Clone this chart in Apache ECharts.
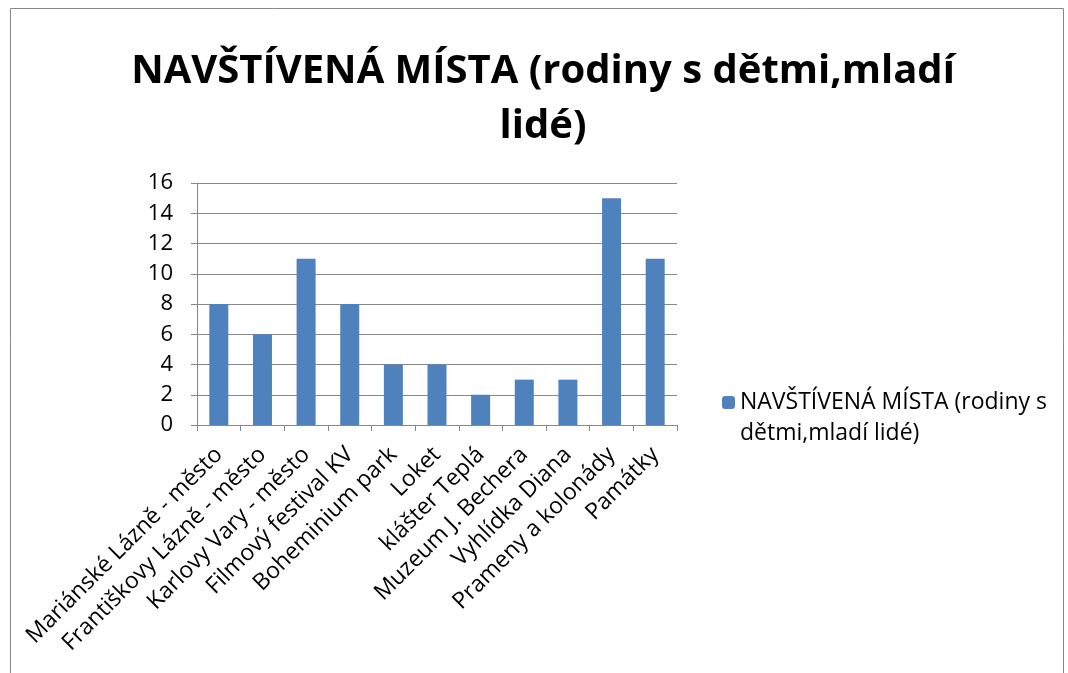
<!DOCTYPE html>
<html>
<head>
<meta charset="utf-8">
<script src="https://cdn.jsdelivr.net/npm/echarts@6/dist/echarts.min.js"></script>
<style>
html,body{margin:0;padding:0;background:#fff;}
#main{width:1068px;height:673px;}
</style>
</head>
<body>
<div id="main"></div>
<script>
var titleText = 'NAVŠTÍVENÁ MÍSTA (rodiny s dětmi,mladí\nlidé)';
var seriesName = 'NAVŠTÍVENÁ MÍSTA (rodiny s dětmi,mladí lidé)';
var legendLines = ['NAVŠTÍVENÁ MÍSTA (rodiny s', 'dětmi,mladí lidé)'];
var categories = ['Mariánské Lázně - město', 'Františkovy Lázně - město', 'Karlovy Vary - město',
    'Filmový festival KV', 'Boheminium park', 'Loket', 'klášter Teplá', 'Muzeum J. Bechera',
    'Vyhlídka Diana', 'Prameny a kolonády', 'Památky'];
var values = [8, 6, 11, 8, 4, 4, 2, 3, 3, 15, 11];

var myChart = echarts.init(document.getElementById('main'));
var fontFam = '"Open Sans", "Noto Sans", sans-serif';

var option = {
    backgroundColor: '#fff',
    animation: false,
    title: {
        text: titleText,
        left: 538,
        top: 39,
        textAlign: 'center',
        textStyle: {
            fontFamily: fontFam,
            fontSize: 40,
            fontWeight: 'bold',
            color: '#000',
            lineHeight: 55,
            align: 'center'
        }
    },
    graphic: [{
        type: 'rect',
        shape: { x: 10.5, y: 8.5, width: 1053, height: 700 },
        style: { fill: 'none', stroke: '#888', lineWidth: 1 },
        silent: true
    }, {
        // second line of the legend text
        type: 'text',
        left: 740,
        top: 422,
        style: {
            text: legendLines[1],
            font: '23px ' + fontFam,
            fill: '#000'
        },
        silent: true
    }],
    legend: {
        left: 717,
        top: 386,
        orient: 'vertical',
        itemWidth: 13,
        itemHeight: 13,
        itemGap: 8,
        data: [seriesName],
        formatter: function () { return legendLines[0]; },
        textStyle: {
            fontFamily: fontFam,
            fontSize: 23,
            color: '#000'
        }
    },
    grid: {
        left: 197,
        right: 391,
        top: 183,
        bottom: 248,
        containLabel: false
    },
    xAxis: {
        type: 'category',
        data: categories,
        axisLine: { lineStyle: { color: '#888', width: 1 } },
        axisTick: { show: true, length: 6, lineStyle: { color: '#888' } },
        axisLabel: {
            rotate: 45,
            interval: 0,
            margin: 26,
            fontFamily: fontFam,
            fontSize: 23,
            color: '#000'
        }
    },
    yAxis: {
        type: 'value',
        min: 0,
        max: 16,
        interval: 2,
        axisLine: { show: true, lineStyle: { color: '#888', width: 1 } },
        axisTick: { show: true, length: 6, lineStyle: { color: '#888' } },
        splitLine: { lineStyle: { color: '#888', width: 1 } },
        axisLabel: {
            margin: 24,
            fontFamily: fontFam,
            fontSize: 22,
            color: '#000'
        }
    },
    series: [{
        name: seriesName,
        type: 'bar',
        data: values,
        barWidth: 19,
        itemStyle: { color: '#4f81bd' }
    }]
};
myChart.setOption(option);
</script>
</body>
</html>
